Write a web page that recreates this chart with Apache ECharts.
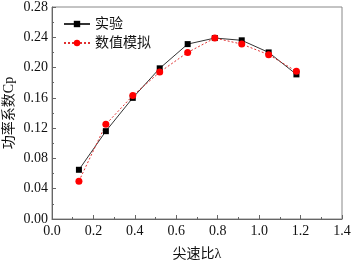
<!DOCTYPE html>
<html>
<head>
<meta charset="utf-8">
<script src="https://cdn.jsdelivr.net/npm/echarts@6/dist/echarts.min.js"></script>
<style>html,body{margin:0;padding:0;background:#fff}#main{width:354px;height:261px}</style>
</head>
<body>
<div id="main"></div>
<script>
var tsr = [0.13, 0.26, 0.39, 0.52, 0.655, 0.786, 0.916, 1.046, 1.18];
var cpTest = [0.065, 0.116, 0.160, 0.199, 0.231, 0.239, 0.236, 0.220, 0.191];
var cpSim = [0.050, 0.125, 0.163, 0.194, 0.220, 0.239, 0.231, 0.217, 0.195];

function pairs(xs, ys) {
	var out = [];
	for (var i = 0; i < xs.length; i++) out.push([xs[i], ys[i]]);
	return out;
}

window.onload = function () {
	var myChart = echarts.init(document.getElementById('main'));
	var font = 'Liberation Serif, Noto Sans CJK SC, serif';
	myChart.setOption({
		animation: false,
		grid: {
			left: 52, right: 12, top: 7, bottom: 42,
			outerBoundsMode: 'none', containLabel: false,
			show: true, borderColor: '#888', borderWidth: 1
		},
		legend: {
			orient: 'vertical',
			left: 58, top: 12,
			itemWidth: 26, itemHeight: 8, itemGap: 5,
			textStyle: {fontFamily: font, fontSize: 14, color: '#111'},
			data: ['实验', '数值模拟']
		},
		xAxis: {
			type: 'value', min: 0, max: 1.4, interval: 0.2,
			name: '尖速比λ', nameLocation: 'middle', nameGap: 28,
			nameTextStyle: {fontFamily: font, fontSize: 14, color: '#111'},
			axisLine: {lineStyle: {color: '#666'}},
			axisTick: {inside: true, length: 4, lineStyle: {color: '#666'}},
			minorTick: {show: true, splitNumber: 2, length: 2, lineStyle: {color: '#666'}},
			splitLine: {show: false},
			axisLabel: {fontFamily: font, fontSize: 14, color: '#111', margin: 5,
				formatter: function (v) { return v.toFixed(1); }}
		},
		yAxis: {
			type: 'value', min: 0, max: 0.28, interval: 0.04,
			name: '功率系数Cp', nameLocation: 'middle', nameGap: 36,
			nameMoveOverlap: false,
			nameTextStyle: {fontFamily: font, fontSize: 14, color: '#111'},
			axisLine: {show: true, lineStyle: {color: '#666'}},
			axisTick: {show: true, inside: true, length: 4, lineStyle: {color: '#666'}},
			minorTick: {show: true, splitNumber: 2, length: 2, lineStyle: {color: '#666'}},
			splitLine: {show: false},
			axisLabel: {fontFamily: font, fontSize: 14, color: '#111', margin: 4,
				formatter: function (v) { return v.toFixed(2); }}
		},
		series: [{
			name: '实验',
			type: 'line',
			data: pairs(tsr, cpTest),
			symbol: 'rect', symbolSize: 6,
			itemStyle: {color: '#000'},
			lineStyle: {color: '#333', width: 1}
		}, {
			name: '数值模拟',
			type: 'line',
			data: pairs(tsr, cpSim),
			symbol: 'circle', symbolSize: 7,
			itemStyle: {color: '#f00'},
			lineStyle: {color: '#e03030', width: 1, type: [2, 2]}
		}]
	});
};
</script>
</body>
</html>
